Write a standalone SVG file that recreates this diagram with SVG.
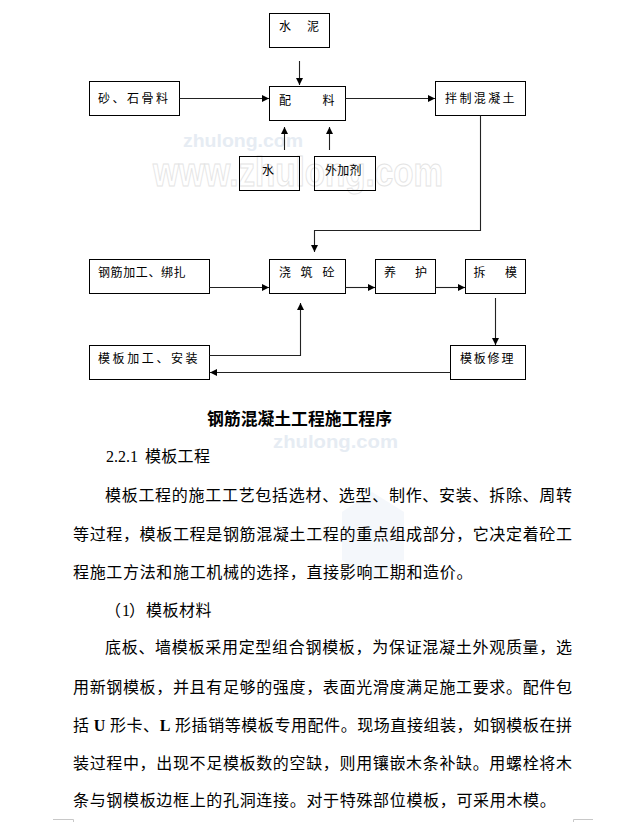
<svg xmlns="http://www.w3.org/2000/svg" width="637" height="822" viewBox="0 0 637 822">
<style>
.box{fill:none;stroke:#000;stroke-width:1}
.lbl{font-family:"Noto Sans CJK SC","Noto Sans",sans-serif;font-size:12px;fill:#000}
.con{fill:none;stroke:#222;stroke-width:1.1}
.body{font-family:"Noto Sans CJK SC","Noto Sans",sans-serif;font-size:16px;fill:#000}
.ser{font-family:"Liberation Serif","Noto Sans CJK SC",serif}
.wm{font-family:"Liberation Sans",sans-serif;font-weight:bold;fill:#e6ecf3}
.wm2{font-family:"Liberation Sans",sans-serif;font-weight:bold;fill:none;stroke:#e4e4e4;stroke-width:1}
.mark{fill:none;stroke:#c8c8c8;stroke-width:1}
</style>
<defs>
<marker id="ah" viewBox="0 0 8 8" refX="8" refY="4" markerWidth="7" markerHeight="7" markerUnits="userSpaceOnUse" orient="auto">
<path d="M0,0 L8,4 L0,8 z" fill="#000"/>
</marker>
</defs>
<rect width="637" height="822" fill="#fff"/>

<!-- faint logo watermark -->
<path d="M372,492 L404,512 L404,560 L372,580 L342,560 L342,512 z" fill="#f4f7fb"/>

<!-- watermarks -->
<text class="wm" x="183" y="147" font-size="19" textLength="120" lengthAdjust="spacingAndGlyphs">zhulong.com</text>
<text class="wm2" x="153" y="186" font-size="40" textLength="290" lengthAdjust="spacingAndGlyphs">www.zhulong.com</text>
<text class="wm" x="273" y="448" font-size="19" textLength="125" lengthAdjust="spacingAndGlyphs">zhulong.com</text>

<g id="n-shuini"><rect class="box" x="269.5" y="13.5" width="60" height="34"/><text class="lbl" x="279 307" y="31">水泥</text></g>
<g id="n-shashi"><rect class="box" x="89.5" y="81.5" width="90" height="34"/><text class="lbl" x="98" y="103" letter-spacing="2.5">砂、石骨料</text></g>
<g id="n-peiliao"><rect class="box" x="269.5" y="86.5" width="76" height="34"/><text class="lbl" x="279 322.5" y="104.5">配料</text></g>
<g id="n-banzhi"><rect class="box" x="435.5" y="81.5" width="90" height="34"/><text class="lbl" x="445" y="103" letter-spacing="2.4">拌制混凝土</text></g>
<g id="n-shui"><rect class="box" x="239.5" y="156.5" width="60" height="34"/><text class="lbl" x="262" y="174.5">水</text></g>
<g id="n-waijia"><rect class="box" x="314.5" y="156.5" width="61" height="34"/><text class="lbl" x="325" y="174.5" letter-spacing="0.3">外加剂</text></g>
<g id="n-gangjin"><rect class="box" x="89.5" y="259.5" width="120" height="34"/><text class="lbl" x="98" y="277" letter-spacing="0.6">钢筋加工、绑扎</text></g>
<g id="n-jiaozhu"><rect class="box" x="269.5" y="259.5" width="76" height="34"/><text class="lbl" x="279 300.5 322.5" y="277">浇筑砼</text></g>
<g id="n-yanghu"><rect class="box" x="375.5" y="259.5" width="60" height="34"/><text class="lbl" x="384 415" y="277">养护</text></g>
<g id="n-chaimo"><rect class="box" x="465.5" y="259.5" width="60" height="34"/><text class="lbl" x="473.5 505" y="277">拆模</text></g>
<g id="n-mubanjg"><rect class="box" x="89.5" y="345.5" width="120" height="34"/><text class="lbl" x="98" y="363" letter-spacing="2.6">模板加工、安装</text></g>
<g id="n-xiuli"><rect class="box" x="450.5" y="345.5" width="75" height="34"/><text class="lbl" x="460" y="363" letter-spacing="1.8">模板修理</text></g>

<g id="connectors">
<path class="con" d="M299.5,61 V85" marker-end="url(#ah)"/>
<path class="con" d="M179.5,98.5 H269" marker-end="url(#ah)"/>
<path class="con" d="M345.5,98.5 H435" marker-end="url(#ah)"/>
<path class="con" d="M284.5,150 V127" marker-end="url(#ah)"/>
<path class="con" d="M329.5,150 V127" marker-end="url(#ah)"/>
<path class="con" d="M480.5,115.5 V230.5 H314.5 V252" marker-end="url(#ah)"/>
<path class="con" d="M209.5,287.5 H269" marker-end="url(#ah)"/>
<path class="con" d="M345.5,287.5 H375" marker-end="url(#ah)"/>
<path class="con" d="M435.5,287.5 H465" marker-end="url(#ah)"/>
<path class="con" d="M495.5,298 V345" marker-end="url(#ah)"/>
<path class="con" d="M450.5,372.5 H210" marker-end="url(#ah)"/>
<path class="con" d="M209.5,355.5 H300.5 V303" marker-end="url(#ah)"/>
</g>

<text x="207" y="424.5" font-family="Noto Sans CJK SC,sans-serif" font-size="17" font-weight="bold" textLength="185" lengthAdjust="spacingAndGlyphs">钢筋混凝土工程施工程序</text>

<text class="body" y="462"><tspan class="ser" x="106">2.2.1</tspan><tspan x="145" letter-spacing="0.3">模板工程</tspan></text>

<text class="body" x="105" y="501" textLength="467" lengthAdjust="spacing">模板工程的施工工艺包括选材、选型、制作、安装、拆除、周转</text>
<text class="body" x="73" y="540" textLength="499" lengthAdjust="spacing">等过程，模板工程是钢筋混凝土工程的重点组成部分，它决定着砼工</text>
<text class="body" x="73" y="578" letter-spacing="0.67">程施工方法和施工机械的选择，直接影响工期和造价。</text>

<text class="body" y="616"><tspan x="105">（</tspan><tspan class="ser" x="122">1</tspan><tspan x="129">）</tspan><tspan x="146" letter-spacing="0.5">模板材料</tspan></text>

<text class="body" x="105" y="653" textLength="467" lengthAdjust="spacing">底板、墙模板采用定型组合钢模板，为保证混凝土外观质量，选</text>
<text class="body" x="73" y="692.5" textLength="499" lengthAdjust="spacing">用新钢模板，并且有足够的强度，表面光滑度满足施工要求。配件包</text>
<text class="body" x="73" y="731" textLength="499" lengthAdjust="spacing">括 <tspan class="ser" font-weight="bold">U</tspan> 形卡、<tspan class="ser" font-weight="bold">L</tspan> 形插销等模板专用配件。现场直接组装，如钢模板在拼</text>
<text class="body" x="73" y="768.7" textLength="499" lengthAdjust="spacing">装过程中，出现不足模板数的空缺，则用镶嵌木条补缺。用螺栓将木</text>
<text class="body" x="73" y="806" letter-spacing="0.67">条与钢模板边框上的孔洞连接。对于特殊部位模板，可采用木模。</text>

<!-- page corner marks -->
<path class="mark" d="M53,819.5 H73.5 V822"/>
<path class="mark" d="M593,819.5 H573.5 V822"/>
</svg>
